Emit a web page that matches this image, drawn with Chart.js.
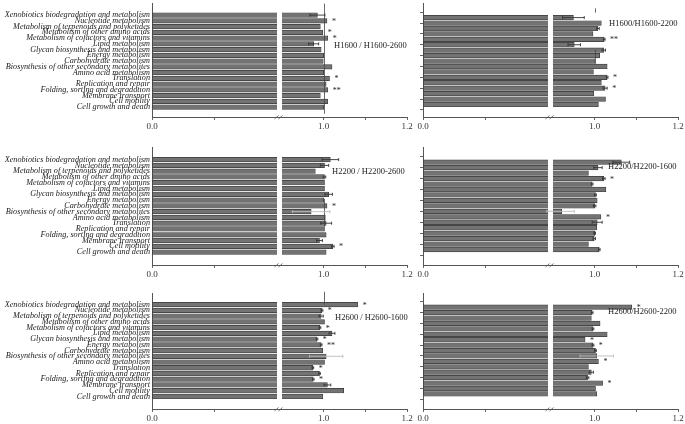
<!DOCTYPE html>
<html>
<head>
<meta charset="utf-8">
<script src="https://cdn.jsdelivr.net/npm/chart.js@4.4.1/dist/chart.umd.min.js"></script>
<style>
  body { margin: 0; background: #fff; width: 685px; height: 424px; overflow: hidden; position: relative; }
  canvas { position: absolute; }
</style>
</head>
<body>
<canvas id="c1"></canvas>
<canvas id="c2"></canvas>
<canvas id="c3"></canvas>
<canvas id="c4"></canvas>
<canvas id="c5"></canvas>
<canvas id="c6"></canvas>
<script>
const categories = [
  'Xenobiotics biodegradation and metabolism',
  'Nucleotide metabolism',
  'Metabolism of terpenoids and polyketides',
  'Metabolism of other amino acids',
  'Metabolism of cofactors and vitamins',
  'Lipid metabolism',
  'Glycan biosynthesis and metabolism',
  'Energy metabolism',
  'Carbohydrate metabolism',
  'Biosynthesis of other secondary metabolites',
  'Amino acid metabolism',
  'Translation',
  'Replication and repair',
  'Folding, sorting and degradation',
  'Membrane transport',
  'Cell motility',
  'Cell growth and death'
]

// ratios, error and significance marks, one set per panel
const h1600vs2600 = [0.985, 1.008, 0.992, 0.998, 1.010, 0.976, 0.994, 1.000, 0.999, 1.020, 1.000, 1.014, 1.006, 1.010, 0.992, 1.010, 1.000]
const err1600vs2600 = [0.018, 0, 0, 0, 0, 0.012, 0, 0, 0, 0, 0, 0, 0, 0, 0, 0, 0]
const sig1600vs2600 = ['', '*', '', '*', '*', '', '', '', '', '', '', '*', '', '**', '', '', '']

const h1600vs2200 = [0.949, 1.016, 1.008, 0.996, 1.023, 0.951, 1.022, 1.012, 1.001, 1.030, 0.997, 1.030, 1.016, 1.025, 0.998, 1.026, 1.009]
const err1600vs2200 = [0.026, 0, 0.003, 0, 0.002, 0.015, 0.004, 0, 0, 0, 0, 0.002, 0, 0.005, 0, 0, 0]
const sig1600vs2200 = ['', '', '', '', '**', '', '', '', '', '', '', '*', '', '*', '', '', '']

const h2200vs2600 = [1.016, 1.002, 0.980, 1.002, 1.002, 1.002, 1.012, 1.000, 1.008, 0.970, 1.004, 1.006, 1.002, 1.006, 0.990, 1.022, 1.006]
const err2200vs2600 = [0.02, 0.01, 0, 0.003, 0, 0, 0.009, 0, 0, 0.045, 0, 0.013, 0, 0, 0.007, 0.003, 0]
const sig2200vs2600 = ['', '', '', '', '', '', '', '', '*', '', '', '', '', '', '', '*', '']

const h2200vs1600 = [1.064, 1.008, 0.985, 1.022, 0.994, 1.027, 1.002, 1.006, 1.000, 0.921, 1.015, 1.006, 1.005, 1.000, 0.999, 0.985, 1.011]
const err2200vs1600 = [0.02, 0.01, 0, 0.003, 0.002, 0, 0.002, 0, 0.003, 0.03, 0, 0.012, 0, 0.002, 0.003, 0, 0.002]
const sig2200vs1600 = ['', '', '', '*', '', '', '', '', '', '', '*', '', '', '', '', '', '']

const h2600vs1600 = [1.082, 0.996, 0.994, 1.002, 0.991, 1.020, 0.984, 0.994, 0.998, 1.006, 1.002, 0.974, 0.990, 0.975, 1.009, 1.048, 0.998]
const err2600vs1600 = [0, 0.002, 0.005, 0, 0.002, 0.007, 0.002, 0.002, 0, 0.04, 0, 0.002, 0.002, 0.002, 0.008, 0, 0]
const sig2600vs1600 = ['*', '*', '', '', '*', '', '*', '**', '', '', '', '*', '', '*', '', '', '']

const h2600vs2200 = [1.089, 0.994, 0.992, 1.013, 0.996, 1.030, 0.977, 0.996, 1.002, 1.005, 1.009, 0.985, 0.992, 0.983, 1.019, 1.002, 1.005]
const err2600vs2200 = [0, 0.002, 0, 0, 0.002, 0, 0, 0.002, 0.002, 0.04, 0, 0, 0.005, 0.003, 0, 0, 0]
const sig2600vs2200 = ['*', '', '', '', '', '', '*', '*', '', '', '*', '', '', '', '*', '', '']

const xTicks = [0, 0.45, 1.0, 1.1, 1.2]
const xTickLabels = ['0.0', '', '1.0', '', '1.2']

// broken x axis: 0..0.9 on the first half, 0.9..1.2 on the second
const SEG1 = 125 / 255, SEG2 = 130 / 255, BREAK_AT = 0.9

class BrokenScale extends Chart.LinearScale {
  getPixelForValue(value) {
    if (value === null || value === undefined || isNaN(value)) return NaN
    let d
    if (value <= BREAK_AT) d = (value - this.min) / (BREAK_AT - this.min) * SEG1
    else d = SEG2 + (value - BREAK_AT) / (this.max - BREAK_AT) * (1 - SEG2)
    return this.getPixelForDecimal(d)
  }
}
BrokenScale.id = 'broken'
BrokenScale.defaults = Chart.LinearScale.defaults
Chart.register(BrokenScale)

const panels = [
  { id: 'c1', title: 'H1600 / H1600-2600', values: h1600vs2600, errs: err1600vs2600, sig: sig1600vs2600,
    left: true, top: 0, yMin: -1.523, yMax: 17.146, titleX: 334, titleY: 46, refLines: [[-2.0, 17.146]] },
  { id: 'c2', title: 'H1600/H1600-2200', values: h1600vs2200, errs: err1600vs2200, sig: sig1600vs2200,
    left: false, top: 0, yMin: -1.523, yMax: 17.146, titleX: 194, titleY: 24, refLines: [[-1.7, -0.9], [5.9, 8.5]] },
  { id: 'c3', title: 'H2200 / H2200-2600', values: h2200vs2600, errs: err2200vs2600, sig: sig2200vs2600,
    left: true, top: 144, yMin: -1.579, yMax: 17.628, titleX: 332, titleY: 28, refLines: [[6.8, 11.6]] },
  { id: 'c4', title: 'H2200/H2200-1600', values: h2200vs1600, errs: err2200vs1600, sig: sig2200vs1600,
    left: false, top: 144, yMin: -1.579, yMax: 17.628, titleX: 193, titleY: 23, refLines: [] },
  { id: 'c5', title: 'H2600 / H2600-1600', values: h2600vs1600, errs: err2600vs1600, sig: sig2600vs1600,
    left: true, top: 290, yMin: -1.426, yMax: 17.59, titleX: 335, titleY: 28, refLines: [[-2.25, 0]] },
  { id: 'c6', title: 'H2600/H2600-2200', values: h2600vs2200, errs: err2600vs2200, sig: sig2600vs2200,
    left: false, top: 290, yMin: -1.426, yMax: 17.59, titleX: 193, titleY: 22, refLines: [] }
]

function decor(p) {
  return {
    id: 'decor',
    afterDatasetsDraw(chart) {
      const { ctx, chartArea: a } = chart
      const x = chart.scales.x, y = chart.scales.y
      ctx.save()

      // white gap through the bars at the break
      const g1 = x.getPixelForDecimal(SEG1), g2 = x.getPixelForDecimal(SEG2)
      ctx.fillStyle = '#fff'
      ctx.fillRect(g1, a.top, g2 - g1, a.bottom - a.top - 1)

      // break marks on the axis
      ctx.strokeStyle = '#555'
      ctx.lineWidth = 0.8
      const cx = (g1 + g2) / 2, by = a.bottom
      ctx.beginPath()
      ctx.moveTo(cx - 5, by + 2); ctx.lineTo(cx - 1, by - 1.5)
      ctx.moveTo(cx - 1, by + 2); ctx.lineTo(cx + 3, by - 1.5)
      ctx.stroke()

      // lines at 1.0
      const x1 = Math.round(x.getPixelForValue(1.0)) + 0.5
      ctx.strokeStyle = '#444'
      ctx.lineWidth = 0.8
      p.refLines.forEach(r => {
        ctx.beginPath()
        ctx.moveTo(x1, y.getPixelForValue(r[0]))
        ctx.lineTo(x1, y.getPixelForValue(r[1]))
        ctx.stroke()
      })

      // error bars
      p.values.forEach((v, i) => {
        const e = p.errs[i]
        if (!e) return
        const yy = y.getPixelForValue(i)
        const xa = x.getPixelForValue(v - e), xb = x.getPixelForValue(v + e)
        ctx.strokeStyle = e >= 0.03 ? '#bbb' : '#333'
        ctx.lineWidth = 0.9
        ctx.beginPath()
        ctx.moveTo(xa, yy); ctx.lineTo(xb, yy)
        ctx.moveTo(xa, yy - 1.5); ctx.lineTo(xa, yy + 1.5)
        ctx.moveTo(xb, yy - 1.5); ctx.lineTo(xb, yy + 1.5)
        ctx.stroke()
      })

      // significance stars
      ctx.fillStyle = '#222'
      ctx.font = '8px "Liberation Serif"'
      ctx.textAlign = 'left'
      ctx.textBaseline = 'middle'
      p.sig.forEach((s, i) => {
        if (!s) return
        const end = x.getPixelForValue(p.values[i] + (p.errs[i] < 0.03 ? p.errs[i] : 0))
        ctx.fillText(s, end + 5, y.getPixelForValue(i) + 1)
      })

      // panel title
      ctx.font = '8.5px "Liberation Serif"'
      ctx.fillText(p.title, p.titleX, p.titleY)
      ctx.restore()
    }
  }
}

panels.forEach(p => {
  const cv = document.getElementById(p.id)
  const W = p.left ? 420 : 270
  const H = p.top === 144 ? 142 : 138
  cv.width = W
  cv.height = H
  cv.style.width = W + 'px'
  cv.style.height = H + 'px'
  cv.style.left = (p.left ? 0 : 415) + 'px'
  cv.style.top = p.top + 'px'
  const chartH = (p.top === 0 ? 114 : p.top === 144 ? 118 : 116)

  new Chart(cv, {
    type: 'bar',
    data: {
      datasets: [{
        data: p.values.map((v, i) => ({ x: v, y: i })),
        backgroundColor: '#737373',
        borderColor: '#383838',
        borderWidth: 0.7,
        borderSkipped: false,
        barThickness: 4.6
      }]
    },
    options: {
      indexAxis: 'y',
      responsive: false,
      animation: false,
      devicePixelRatio: 1,
      events: [],
      layout: { padding: { top: 3, right: p.left ? 13 : 7, left: 0, bottom: 0 } },
      plugins: {
        legend: { display: false },
        tooltip: { enabled: false }
      },
      scales: {
        x: {
          type: 'broken',
          min: 0,
          max: 1.2,
          bounds: 'data',
          afterBuildTicks: s => { s.ticks = xTicks.map(v => ({ value: v })) },
          afterFit: s => { s.height = H - 3 - chartH; s.paddingLeft = 0; s.paddingRight = 0 },
          ticks: {
            autoSkip: false,
            maxRotation: 0,
            padding: 1,
            color: '#333',
            font: { family: 'Liberation Serif', size: 9 },
            callback: (v, i) => xTickLabels[i]
          },
          grid: { drawOnChartArea: false, drawTicks: true, tickLength: 3, color: '#666' },
          border: { color: '#555', width: 1 }
        },
        y: {
          type: 'linear',
          reverse: true,
          min: p.yMin,
          max: p.yMax,
          bounds: 'data',
          afterBuildTicks: s => {
            s.ticks = categories.map((c, i) => ({ value: i })).filter((t, i) => p.left || i % 2 === 0)
          },
          afterFit: s => { s.width = p.left ? 152 : 8; s.paddingTop = 0; s.paddingBottom = 0 },
          ticks: {
            display: p.left,
            autoSkip: false,
            padding: 2,
            color: '#1a1a1a',
            font: { family: 'Liberation Serif', size: 8.2, style: 'italic' },
            callback: v => categories[v]
          },
          grid: { drawOnChartArea: false, drawTicks: !p.left, tickLength: 3, color: '#666' },
          border: { color: '#555', width: 1 }
        }
      }
    },
    plugins: [decor(p)]
  })
})
</script>
</body>
</html>
